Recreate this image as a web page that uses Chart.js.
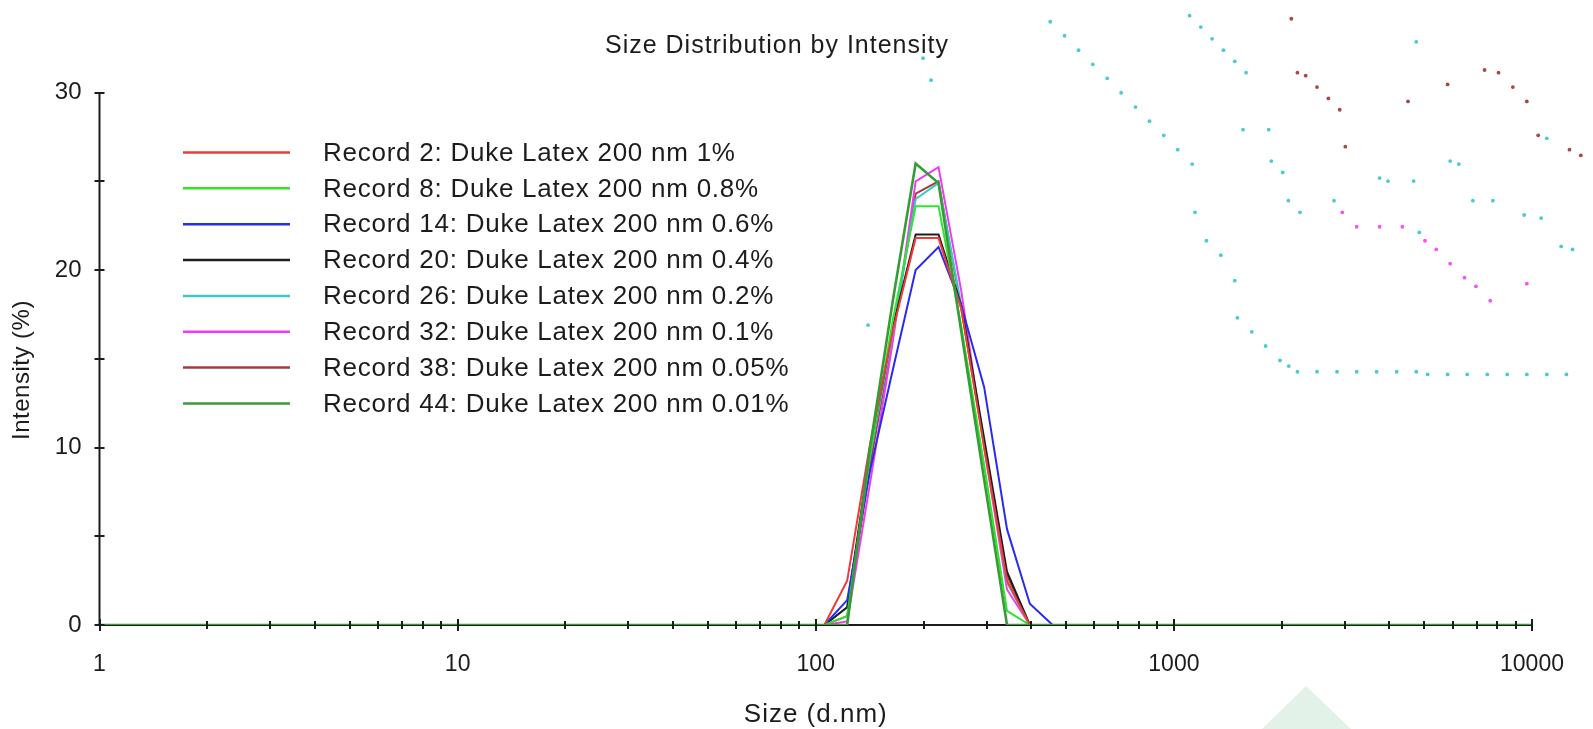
<!DOCTYPE html>
<html>
<head>
<meta charset="utf-8">
<script src="https://cdn.jsdelivr.net/npm/chart.js@4.4.1/dist/chart.umd.min.js"></script>
<style>
  html, body { margin: 0; padding: 0; background: #ffffff; }
  #wrap { width: 1593px; height: 729px; }
</style>
</head>
<body>
<div id="wrap"><canvas id="chart" width="1593" height="729"></canvas></div>
<script>
// Size classes (d.nm) of the intensity distribution
const sizeBins = [
  0.9649, 1.117, 1.294, 1.499, 1.736, 2.010, 2.328, 2.696, 3.122, 3.615, 4.187, 4.849, 5.615, 6.503, 7.531, 8.721,
  10.10, 11.70, 13.54, 15.69, 18.17, 21.04, 24.36, 28.21, 32.67, 37.84, 43.82, 50.75, 58.77, 68.06, 78.82, 91.28,
  105.7, 122.4, 141.8, 164.2, 190.1, 220.2, 255.0, 295.3, 342.0, 396.1, 458.7,
  531.2, 615.1, 712.4, 825.0, 955.4, 1106, 1281, 1484, 1718, 1990, 2305, 2669, 3091, 3580, 4145, 4801, 5560, 6439, 7456, 8635, 10000
];

// Intensity (%) per size class, one array per record
const record2  = [0,0,0,0,0,0,0,0,0,0,0,0,0,0,0,0, 0,0,0,0,0,0,0,0,0,0,0,0,0,0,0,0,
  0, 2.5, 10.2, 16.6, 21.8, 21.8, 17.8, 10.0, 2.5, 0, 0,
  0,0,0,0,0,0,0,0,0,0,0,0,0,0,0,0,0,0,0,0,0];
const record8  = [0,0,0,0,0,0,0,0,0,0,0,0,0,0,0,0, 0,0,0,0,0,0,0,0,0,0,0,0,0,0,0,0,
  0, 0.5, 9.6, 17.2, 23.6, 23.6, 16.8, 9.0, 0.8, 0, 0,
  0,0,0,0,0,0,0,0,0,0,0,0,0,0,0,0,0,0,0,0,0];
const record14 = [0,0,0,0,0,0,0,0,0,0,0,0,0,0,0,0, 0,0,0,0,0,0,0,0,0,0,0,0,0,0,0,0,
  0, 1.4, 8.7, 14.4, 20.0, 21.3, 18.0, 13.4, 5.4, 1.2, 0,
  0,0,0,0,0,0,0,0,0,0,0,0,0,0,0,0,0,0,0,0,0];
const record20 = [0,0,0,0,0,0,0,0,0,0,0,0,0,0,0,0, 0,0,0,0,0,0,0,0,0,0,0,0,0,0,0,0,
  0, 1.0, 9.8, 16.8, 22.0, 22.0, 18.0, 10.5, 3.0, 0, 0,
  0,0,0,0,0,0,0,0,0,0,0,0,0,0,0,0,0,0,0,0,0];
const record26 = [0,0,0,0,0,0,0,0,0,0,0,0,0,0,0,0, 0,0,0,0,0,0,0,0,0,0,0,0,0,0,0,0,
  0, 1.0, 9.5, 16.5, 24.0, 24.9, 18.0, 10.3, 2.4, 0, 0,
  0,0,0,0,0,0,0,0,0,0,0,0,0,0,0,0,0,0,0,0,0];
const record32 = [0,0,0,0,0,0,0,0,0,0,0,0,0,0,0,0, 0,0,0,0,0,0,0,0,0,0,0,0,0,0,0,0,
  0, 0.2, 8.0, 16.0, 25.0, 25.8, 18.8, 10.0, 2.0, 0, 0,
  0,0,0,0,0,0,0,0,0,0,0,0,0,0,0,0,0,0,0,0,0];
const record38 = [0,0,0,0,0,0,0,0,0,0,0,0,0,0,0,0, 0,0,0,0,0,0,0,0,0,0,0,0,0,0,0,0,
  0, 0.5, 9.0, 16.3, 24.3, 25.0, 17.8, 10.2, 2.8, 0, 0,
  0,0,0,0,0,0,0,0,0,0,0,0,0,0,0,0,0,0,0,0,0];
const record44 = [0,0,0,0,0,0,0,0,0,0,0,0,0,0,0,0, 0,0,0,0,0,0,0,0,0,0,0,0,0,0,0,0,
  0, 0.0, 10.0, 18.3, 26.0, 24.9, 16.5, 8.2, 0.0, 0, 0,
  0,0,0,0,0,0,0,0,0,0,0,0,0,0,0,0,0,0,0,0,0];

const recordLabels = [
  'Record 2: Duke Latex 200 nm 1%',
  'Record 8: Duke Latex 200 nm 0.8%',
  'Record 14: Duke Latex 200 nm 0.6%',
  'Record 20: Duke Latex 200 nm 0.4%',
  'Record 26: Duke Latex 200 nm 0.2%',
  'Record 32: Duke Latex 200 nm 0.1%',
  'Record 38: Duke Latex 200 nm 0.05%',
  'Record 44: Duke Latex 200 nm 0.01%'
];
const recordColors = ['#f03a3a', '#2ee62e', '#2b2bf0', '#1e1e1e', '#3cc8c8', '#f03cf0', '#a83c3c', '#379c37'];

// Stray dotted traces in the upper right
const strayCyanX = [451.6, 495.1, 541.8, 593.8, 651.4, 712.5, 781.2, 854.8, 937.2, 1025, 1125,
  1146, 1233, 1352, 1479, 1505, 1650, 1804, 1978, 2093, 2213,
  2510, 2855, 3239, 3682, 4189, 4751,
  5111, 5811, 6592, 7501, 8528, 9673, 11000, 12478,
  1106, 1189, 1279, 1375, 1479, 1591,
  1560, 1840, 1871, 2013, 2088, 2250, 2800,
  3754, 3963, 4673, 4846, 5909, 6249, 6838, 7776, 9509, 10608, 11000, 12063, 12975,
  4751, 199.4, 209.9, 140.0];
const strayCyanY = [33.99, 33.20, 32.39, 31.59, 30.80, 29.99, 29.18, 28.39, 27.59, 26.78, 25.97,
  23.25, 21.65, 20.84, 19.40, 17.31, 16.52, 15.72, 14.91, 14.59, 14.27,
  14.27, 14.27, 14.27, 14.27, 14.27, 14.27,
  14.12, 14.12, 14.12, 14.12, 14.12, 14.12, 14.12, 14.12,
  34.33, 33.69, 33.03, 32.39, 31.76, 31.12,
  27.91, 27.91, 26.14, 25.50, 23.91, 23.25, 23.91,
  25.18, 25.01, 25.01, 22.12, 26.14, 25.97, 23.91, 23.91, 23.10, 22.93, 27.42, 21.33, 21.16,
  32.86, 31.94, 30.70, 16.90];
const strayBrownX = [2128, 2213, 2334, 2510, 2700, 2904, 3011, 4506, 5811, 7371, 8064, 8842, 9673, 10405, 12724, 13688];
const strayBrownY = [34.16, 31.12, 30.95, 30.31, 29.67, 29.03, 26.95, 29.50, 30.46, 31.27, 31.12, 30.31, 29.50, 27.59, 26.78, 26.46];
const strayPinkX = [2953, 3239, 3754, 4346, 5026, 5402, 5909, 6481, 6972, 7645, 9673];
const strayPinkY = [23.25, 22.44, 22.44, 22.44, 21.65, 21.16, 20.36, 19.57, 19.08, 18.27, 19.23];

// Axis ticks
const decadeValues = [1, 10, 100, 1000, 10000];
const decadeLabels = ['1', '10', '100', '1000', '10000'];
const yTickValues = [0, 5, 10, 15, 20, 25, 30];
const yTickLabels = ['0', '10', '20', '30'];
// the axes stop at 10000 and 30; the plotting area runs on past them
const xAxisEnd = 10000, yAxisEnd = 30;
const xScaleMax = 14334, yScaleMax = 34.37;

const FONT = "'Liberation Sans', Arial, sans-serif";
const INK = '#1c1c1c';

// minor ticks 1..9 within each decade
const xTickValues = [];
decadeValues.slice(0, -1).forEach(d => { for (let m = 1; m < 10; m++) xTickValues.push(d * m); });
xTickValues.push(10000);

const records = [record2, record8, record14, record20, record26, record32, record38, record44];
const recordSets = records.map((vals, i) => ({
  label: recordLabels[i],
  data: sizeBins.map((s, k) => ({ x: s, y: vals[k] })),
  borderColor: recordColors[i],
  backgroundColor: recordColors[i],
  borderWidth: i === 7 ? 2.6 : 2,
  pointRadius: 0,
  tension: 0,
  fill: false,
  order: i === 7 ? 0 : 1
}));

function strayDots(xs, ys, color) {
  return {
    data: xs.map((x, k) => ({ x: x, y: ys[k] })),
    showLine: false,
    pointRadius: 1.9,
    pointBorderWidth: 0,
    pointBackgroundColor: color,
    borderColor: color,
    clip: false,
    order: 2
  };
}

// white page plus faint mark at the bottom edge
const pagePlugin = {
  id: 'page',
  beforeDraw(chart) {
    const ctx = chart.ctx;
    ctx.save();
    ctx.fillStyle = '#ffffff';
    ctx.fillRect(0, 0, chart.width, chart.height);
    ctx.fillStyle = '#e2f2e8';
    ctx.beginPath();
    ctx.moveTo(1306, 686);
    ctx.lineTo(1351, 729);
    ctx.lineTo(1262, 729);
    ctx.closePath();
    ctx.fill();
    ctx.restore();
  }
};

// axis lines under the traces, tick marks crossing them over the traces
const axesPlugin = {
  id: 'axes',
  beforeDatasetsDraw(chart) {
    const ctx = chart.ctx;
    const xs = chart.scales.x, ys = chart.scales.y;
    const x0 = xs.getPixelForValue(1), x1 = xs.getPixelForValue(xAxisEnd);
    const y0 = ys.getPixelForValue(0), y1 = ys.getPixelForValue(yAxisEnd);
    ctx.save();
    ctx.strokeStyle = INK;
    ctx.lineWidth = 2;
    ctx.beginPath();
    ctx.moveTo(x0, y1);
    ctx.lineTo(x0, y0);
    ctx.lineTo(x1, y0);
    ctx.stroke();
    ctx.restore();
  },
  afterDatasetsDraw(chart) {
    const ctx = chart.ctx;
    const xs = chart.scales.x, ys = chart.scales.y;
    const axisY = ys.getPixelForValue(0);
    const axisX = xs.getPixelForValue(1);
    ctx.save();
    ctx.strokeStyle = INK;
    ctx.lineWidth = 2;
    ctx.beginPath();
    xs.ticks.forEach(t => {
      const px = Math.round(xs.getPixelForValue(t.value));
      const h = decadeValues.includes(t.value) ? 6 : 4;
      ctx.moveTo(px, axisY - h);
      ctx.lineTo(px, axisY + h);
    });
    ys.ticks.forEach(t => {
      const py = Math.round(ys.getPixelForValue(t.value));
      ctx.moveTo(axisX - 5, py);
      ctx.lineTo(axisX + 5, py);
    });
    ctx.stroke();
    ctx.restore();
  }
};

// heading, axis titles and key
const captionPlugin = {
  id: 'caption',
  afterDraw(chart) {
    const ctx = chart.ctx;
    const xs = chart.scales.x;
    ctx.save();
    ctx.fillStyle = INK;
    ctx.textAlign = 'center';
    ctx.textBaseline = 'middle';

    ctx.letterSpacing = '1px';
    ctx.font = '25px ' + FONT;
    ctx.fillText('Size Distribution by Intensity', 777, 46);

    ctx.font = '26px ' + FONT;
    const xMid = (xs.getPixelForValue(1) + xs.getPixelForValue(xAxisEnd)) / 2;
    ctx.fillText('Size (d.nm)', xMid, 715);

    ctx.letterSpacing = '0.5px';
    ctx.font = '24px ' + FONT;
    ctx.save();
    ctx.translate(22.5, 370);
    ctx.rotate(-Math.PI / 2);
    ctx.fillText('Intensity (%)', 0, 0);
    ctx.restore();

    ctx.textAlign = 'left';
    ctx.letterSpacing = '0.75px';
    ctx.font = '26px ' + FONT;
    let row = 0;
    chart.data.datasets.forEach(ds => {
      if (!ds.label) return;
      const y = 152.5 + row * 35.85;
      ctx.strokeStyle = ds.borderColor;
      ctx.lineWidth = 2.5;
      ctx.beginPath();
      ctx.moveTo(183, y);
      ctx.lineTo(290, y);
      ctx.stroke();
      ctx.fillStyle = INK;
      ctx.fillText(ds.label, 323, y + 1);
      row++;
    });
    ctx.restore();
  }
};

const hiddenGrid = { display: true, drawOnChartArea: false, drawTicks: false, color: 'rgba(0,0,0,0)' };

new Chart(document.getElementById('chart'), {
  type: 'line',
  data: {
    datasets: recordSets.concat([
      strayDots(strayCyanX, strayCyanY, '#4ccbcf'),
      strayDots(strayBrownX, strayBrownY, '#a54848'),
      strayDots(strayPinkX, strayPinkY, '#f452f4')
    ])
  },
  options: {
    responsive: false,
    animation: false,
    devicePixelRatio: 1,
    layout: { padding: { left: 0, right: 5, top: 15, bottom: 0 } },
    plugins: {
      legend: { display: false },
      title: { display: false },
      tooltip: { enabled: false }
    },
    scales: {
      x: {
        type: 'logarithmic',
        min: 1,
        max: xScaleMax,
        bounds: 'data',
        afterBuildTicks(scale) {
          scale.ticks = xTickValues.map(v => ({ value: v, major: decadeValues.includes(v) }));
        },
        afterFit(scale) { scale.height = 104; },
        grid: hiddenGrid,
        border: { display: false },
        ticks: {
          autoSkip: false,
          maxRotation: 0,
          padding: 26,
          color: INK,
          font: { family: FONT, size: 23 },
          callback(value) {
            const k = decadeValues.indexOf(value);
            return k >= 0 ? decadeLabels[k] : '';
          }
        },
        title: { display: false }
      },
      y: {
        min: 0,
        max: yScaleMax,
        afterBuildTicks(scale) {
          scale.ticks = yTickValues.map(v => ({ value: v }));
        },
        afterFit(scale) {
          scale.width = 99.5;
          scale.paddingTop = 0;
          scale.paddingBottom = 0;
        },
        grid: hiddenGrid,
        border: { display: false },
        ticks: {
          padding: 18,
          color: INK,
          font: { family: FONT, size: 24 },
          callback(value) {
            const s = String(value);
            return yTickLabels.includes(s) ? s : '';
          }
        },
        title: { display: false }
      }
    }
  },
  plugins: [pagePlugin, axesPlugin, captionPlugin]
});
</script>
</body>
</html>
